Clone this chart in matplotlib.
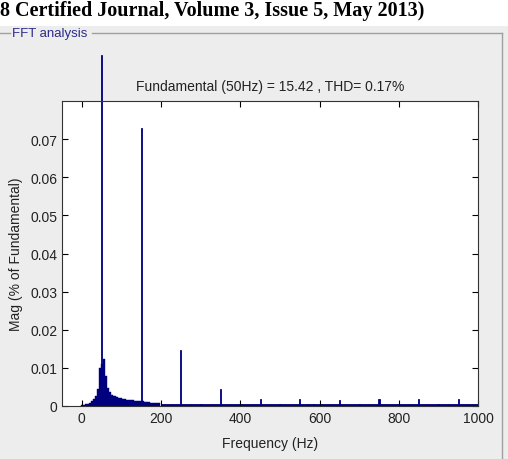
import matplotlib
matplotlib.use("Agg")
from matplotlib import pyplot as plt
from matplotlib.lines import Line2D
from matplotlib.patches import Rectangle

# spectrum around the fundamental, 5 Hz bins
skirt_freq = [0, 5, 10, 15, 20, 25, 30, 35, 40, 45, 50, 55, 60, 65, 70, 75, 80, 85, 90, 95,
              100, 105, 110, 115, 120, 125, 130, 135, 140, 145, 150, 155, 160, 165, 170,
              175, 180, 185, 190, 195]
skirt_mag = [0.0003, 0.0003, 0.0004, 0.0005, 0.0008, 0.0012, 0.0018, 0.0026, 0.0045, 0.0100,
             0.0110, 0.0123, 0.0080, 0.0048, 0.0036, 0.0030, 0.0027, 0.0025, 0.0024, 0.0022,
             0.0021, 0.0019, 0.0018, 0.0017, 0.0016, 0.0016, 0.0015, 0.0014, 0.0014, 0.0013,
             0.0013, 0.0012, 0.0011, 0.0010, 0.0010, 0.0009, 0.0009, 0.0008, 0.0008, 0.0008]

# noise floor above 200 Hz, 25 Hz bins
floor_freq = [200, 225, 250, 275, 300, 325, 350, 375, 400, 425, 450, 475, 500, 525, 550, 575,
              600, 625, 650, 675, 700, 725, 750, 775, 800, 825, 850, 875, 900, 925, 950, 975]
floor_mag = [0.0006, 0.0006, 0.0005, 0.0005, 0.0005, 0.0005, 0.0005, 0.0004, 0.0004, 0.0004,
             0.0004, 0.0004, 0.0004, 0.0004, 0.0004, 0.0004, 0.0004, 0.0004, 0.0004, 0.0004,
             0.0004, 0.0004, 0.0004, 0.0004, 0.0004, 0.0004, 0.0004, 0.0004, 0.0004, 0.0004,
             0.0004, 0.0004]

# harmonic lines
harm_freq = [150, 250, 300, 350, 450, 500, 550, 570, 585, 650, 700, 750, 850, 900, 950]
harm_mag = [0.0728, 0.0147, 0.0006, 0.0045, 0.0018, 0.0006, 0.0018, 0.0005, 0.0005, 0.0017,
            0.0006, 0.0018, 0.0018, 0.0006, 0.0018]

fund_freq = 50
fund_mag = 0.092   # goes past the top of the axes, not clipped

xticks = [0, 200, 400, 600, 800, 1000]
yticks = [0, 0.01, 0.02, 0.03, 0.04, 0.05, 0.06, 0.07]
ytick_labels = ["0", "0.01", "0.02", "0.03", "0.04", "0.05", "0.06", "0.07"]

navy = "#00007f"
W, H = 508, 460

fig = plt.figure(figsize=(W / 100, H / 100), dpi=100)
fig.patch.set_facecolor("white")

# gray panel below the journal header
fig.add_artist(Rectangle((0, 0), 1, (H - 27) / H, transform=fig.transFigure,
                         facecolor="#ededed", edgecolor="none", zorder=-5))
# panel frame
fy = (H - 34) / H
for (x0, x1) in [(0, 10), (92, 502)]:
    fig.add_artist(Line2D([x0 / W, x1 / W], [fy, fy], color="#a0a0a0", lw=1.0, zorder=-4))
fig.add_artist(Line2D([502 / W, 502 / W], [fy, 0], color="#a0a0a0", lw=1.0, zorder=-4))
fig.text(12 / W, fy, "FFT analysis", color="#2b2b8c", fontsize=9.5,
         family="Liberation Sans", va="center", ha="left")

fig.text(0, (H - 11) / H, "8 Certified Journal, Volume 3, Issue 5, May 2013)",
         family="Liberation Serif", weight="bold", fontsize=14.5, va="center", ha="left")

ax = fig.add_axes([62 / W, (H - 407) / H, 416 / W, 305 / H])
ax.set_zorder(5)
ax.set_facecolor("white")

ax.bar(skirt_freq, skirt_mag, width=5, color=navy, edgecolor=navy, linewidth=0.3)
ax.bar(floor_freq, floor_mag, width=25, align="edge", color=navy, edgecolor=navy, linewidth=0.6)
ax.bar(harm_freq, harm_mag, width=3, color=navy, edgecolor=navy, linewidth=0.6)
fund = ax.bar([fund_freq], [fund_mag], width=3, color=navy, edgecolor=navy, linewidth=0.6)
for p in fund:
    p.set_clip_on(False)

ax.set_xlim(-50, 1000)
ax.set_ylim(0, 0.08)
ax.set_xticks(xticks)
ax.set_yticks(yticks)
ax.set_yticklabels(ytick_labels)
ax.tick_params(direction="in", length=4, top=True, right=True, labelsize=10,
               colors="black", labelcolor="#222222")
for lab in ax.get_xticklabels() + ax.get_yticklabels():
    lab.set_family("Liberation Sans")
for s in ax.spines.values():
    s.set_linewidth(0.8)
    s.set_color("#333333")

ax.set_xlabel("Frequency (Hz)", fontsize=10, family="Liberation Sans", color="#222222", labelpad=8)
ax.set_ylabel("Mag (% of Fundamental)", fontsize=10, family="Liberation Sans", color="#222222",
              labelpad=5)
ax.set_title("Fundamental (50Hz) = 15.42 , THD= 0.17%", fontsize=10, family="Liberation Sans",
             color="#222222", pad=8)

fig.savefig("out.png", dpi=100)
